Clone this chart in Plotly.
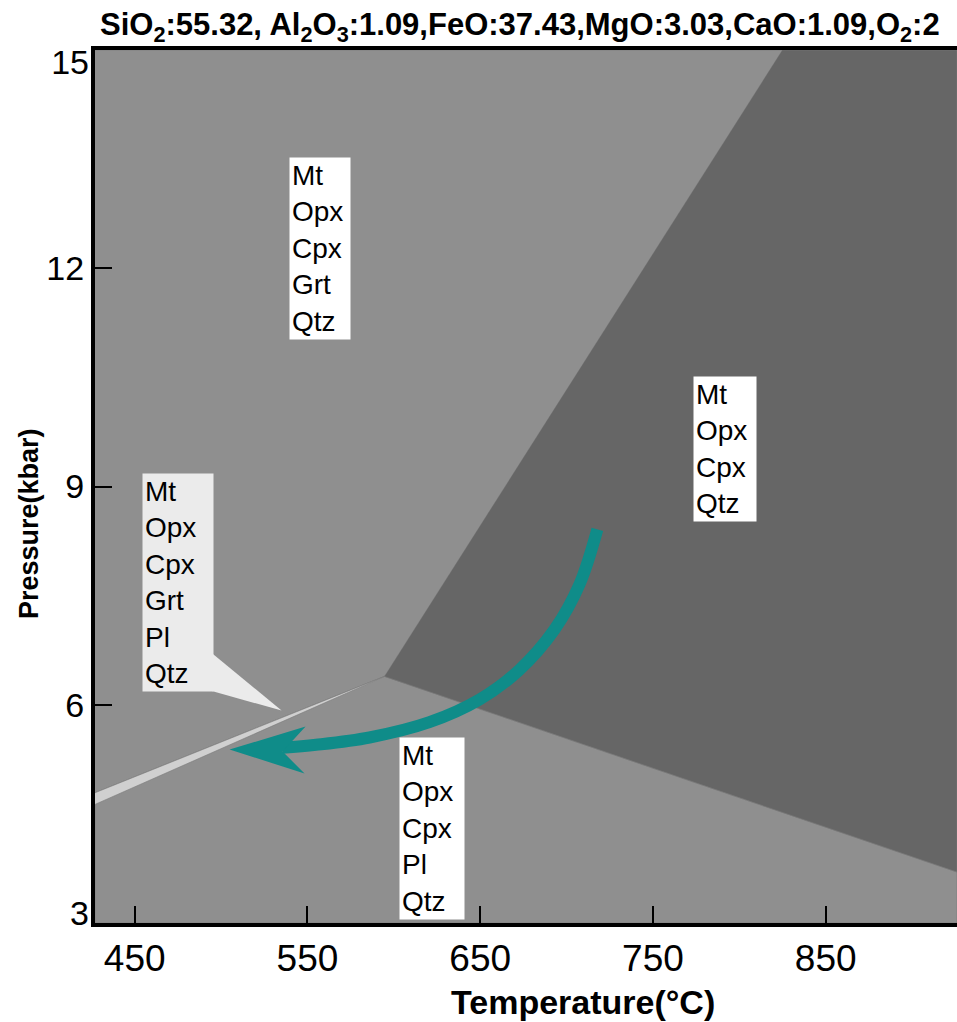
import plotly.graph_objects as go

# ---- data (T in °C, P in kbar) ----
title_text = "SiO<sub>2</sub>:55.32, Al<sub>2</sub>O<sub>3</sub>:1.09,FeO:37.43,MgO:3.03,CaO:1.09,O<sub>2</sub>:2"
x_ticks = [450, 550, 650, 750, 850]
y_ticks_mid = [6, 9, 12]
y_tick_top = [15]
y_tick_bottom = [3]

# phase field polygons
grt_T = [427, 825, 594.6, 427]
grt_P = [15, 15, 6.39, 4.79]
hiT_T = [825, 926, 926, 594.6]
hiT_P = [15, 15, 3.70, 6.39]
pl_T = [594.6, 926, 926, 427, 427]
pl_P = [6.39, 3.70, 3, 3, 4.63]
grtpl_T = [427, 594.6, 427]
grtpl_P = [4.79, 6.39, 4.63]

# P-T path (arrow)
path_T = [717.8, 707.4, 692.9, 672.7, 649.5, 620.6, 585.9, 555.0, 535.6]
path_P = [8.41, 7.65, 7.03, 6.48, 6.07, 5.76, 5.55, 5.45, 5.41]
head_T = [504.9, 548.9, 535.6, 548.3, 504.9]
head_P = [5.385, 5.70, 5.357, 5.055, 5.385]

# callout wedge for the Grt+Pl field label
wedge_T = [490.0, 535.0, 490.0]
wedge_P = [6.80, 5.92, 6.22]

field_labels = ["Mt<br>Opx<br>Cpx<br>Grt<br>Qtz",
                "Mt<br>Opx<br>Cpx<br>Qtz",
                "Mt<br>Opx<br>Cpx<br>Grt<br>Pl<br>Qtz",
                "Mt<br>Opx<br>Cpx<br>Pl<br>Qtz"]
label_T = [539.1, 773.3, 454.0, 602.7]
label_P = [13.53, 10.52, 9.18, 5.56]

MID = "#8f8f8f"
DARK = "#666666"
LIGHT = "#d0d0d0"
CALLOUT = "#ebebeb"
TEAL = "#0f8c89"
FONT = "Liberation Sans, Arial, sans-serif"

W, H = 957, 1022
ML, MR, MT, MB = 95, 0, 50, 99
plot_w = W - ML - MR
plot_h = H - MT - MB


def px(xp):
    return (xp - ML) / plot_w


def py(yp):
    return (H - MB - yp) / plot_h


fig = go.Figure()
for tt, pp, col in [(grt_T, grt_P, MID), (pl_T, pl_P, MID), (hiT_T, hiT_P, DARK), (grtpl_T, grtpl_P, LIGHT)]:
    fig.add_trace(go.Scatter(x=tt, y=pp, fill="toself", fillcolor=col, mode="lines",
                             line=dict(width=0.6, color="#7a7a7a"), hoverinfo="skip", showlegend=False))
fig.add_trace(go.Scatter(x=path_T, y=path_P, mode="lines", line=dict(color=TEAL, width=12, shape="spline"),
                         hoverinfo="skip", showlegend=False))
# the wedge and arrowhead live on overlay y-axes (same range) that carry the end tick labels
fig.add_trace(go.Scatter(x=wedge_T, y=wedge_P, fill="toself", fillcolor=CALLOUT, mode="lines",
                         line=dict(width=0), hoverinfo="skip", showlegend=False, yaxis="y2"))
fig.add_trace(go.Scatter(x=head_T, y=head_P, fill="toself", fillcolor=TEAL, mode="lines",
                         line=dict(width=0), hoverinfo="skip", showlegend=False, yaxis="y3"))

box_widths = [56, 58, 66, 60]
box_bg = ["white", "white", CALLOUT, "white"]
for txt, tx, pp, bw, bg in zip(field_labels, label_T, label_P, box_widths, box_bg):
    fig.add_annotation(x=tx, y=pp, xref="x", yref="y", text=txt, showarrow=False, xanchor="left",
                       yanchor="top", align="left", bgcolor=bg, borderpad=2, width=bw,
                       font=dict(family=FONT, size=28, color="black"))

fig.add_annotation(text="<b>" + title_text + "</b>", x=px(520), y=py(27), xref="paper", yref="paper",
                   xanchor="center", yanchor="middle",
                   showarrow=False, font=dict(family=FONT, size=31, color="black"))
fig.add_annotation(text="<b>Temperature(°C)</b>", x=px(583), y=py(1002), xref="paper", yref="paper",
                   xanchor="center", yanchor="middle",
                   showarrow=False, font=dict(family=FONT, size=34, color="black"))
fig.add_annotation(text="<b>Pressure(kbar)</b>", x=px(29), y=py(524), xref="paper", yref="paper",
                   xanchor="center", yanchor="middle",
                   showarrow=False, textangle=-90, font=dict(family=FONT, size=27, color="black"))

fig.update_layout(
    width=W, height=H,
    margin=dict(l=ML, r=MR, t=MT, b=MB),
    paper_bgcolor="white", plot_bgcolor=MID,
    showlegend=False,
)

tickfont_y = dict(family=FONT, size=34, color="black")
fig.update_xaxes(range=[427, 926], tickvals=x_ticks, ticks="inside", ticklen=17, tickwidth=2, tickcolor="black",
                 showline=True, linewidth=4, linecolor="black", mirror=True, showgrid=False, zeroline=False,
                 tickfont=dict(family=FONT, size=37, color="black"))
fig.update_layout(
    yaxis=dict(range=[3, 15], tickvals=y_ticks_mid, ticks="inside", ticklen=17, tickwidth=1.5, tickcolor="black",
               showline=True, linewidth=4, linecolor="black", mirror=False, showgrid=False, zeroline=False,
               tickfont=tickfont_y),
    yaxis2=dict(range=[3, 15], overlaying="y", side="left", tickvals=y_tick_top, ticks="",
                ticklabelshift=12, ticklabelstandoff=5, showline=False, showgrid=False, zeroline=False,
                tickfont=tickfont_y),
    yaxis3=dict(range=[3, 15], overlaying="y", side="left", tickvals=y_tick_bottom, ticks="",
                ticklabelshift=-10, ticklabelstandoff=5, showline=False, showgrid=False, zeroline=False,
                tickfont=tickfont_y),
)

fig.write_html("out.html", config={"displayModeBar": False},
               post_script="document.body.style.margin='0';document.body.style.overflow='hidden';")
